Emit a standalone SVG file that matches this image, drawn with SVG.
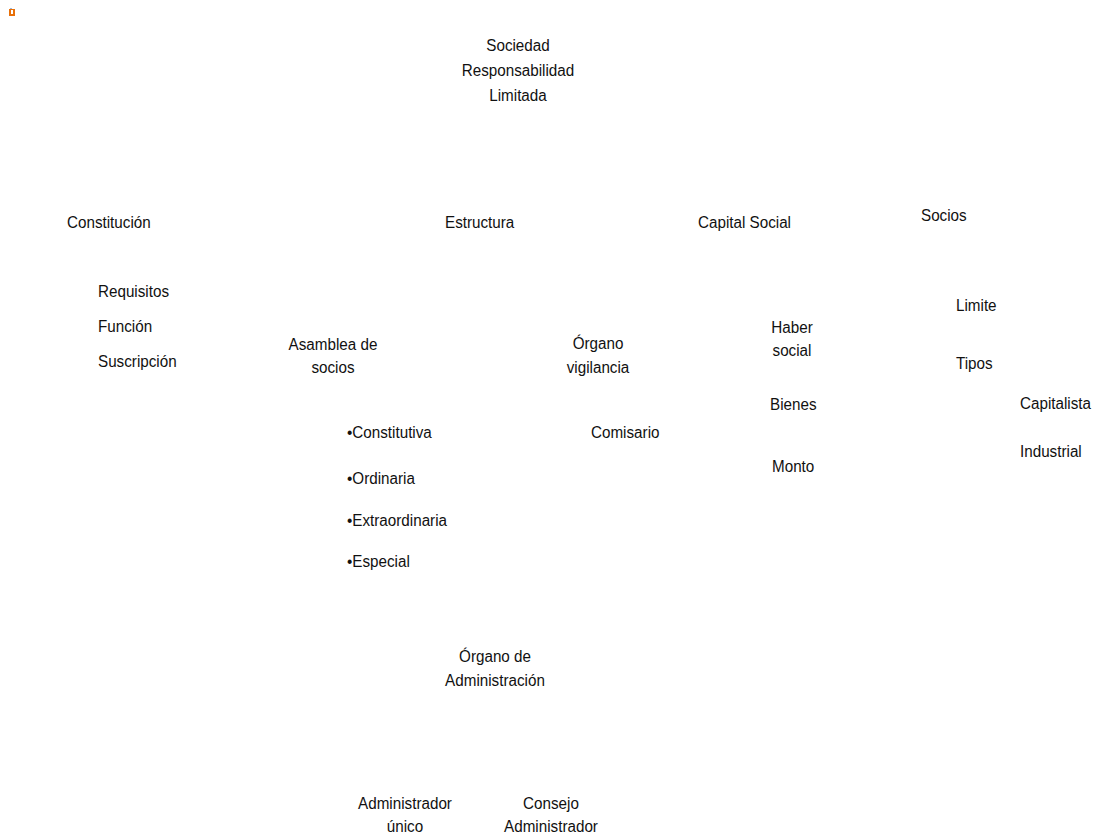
<svg xmlns="http://www.w3.org/2000/svg" width="1096" height="836" viewBox="0 0 1096 836">
<style>
text{font-family:"Liberation Sans",Arial,sans-serif;font-size:17.3px;fill:#111111}
.c{text-anchor:middle}
</style>
<rect width="1096" height="836" fill="#ffffff"/>
<g id="icon">
<rect x="9" y="9" width="6" height="7" fill="#e8700a"/>
<rect x="11" y="10" width="2" height="4" fill="#ffffff"/>
<rect x="10" y="8" width="2" height="1" fill="#9fb8d8"/>
</g>
<g id="connectors"></g>
<g id="n-root"><text class="c" transform="translate(518,51) scale(0.88,1)">Sociedad</text><text class="c" transform="translate(518,76) scale(0.88,1)">Responsabilidad</text><text class="c" transform="translate(518,101) scale(0.88,1)">Limitada</text></g>
<g id="n-constitucion"><text transform="translate(67,228) scale(0.88,1)">Constitución</text></g>
<g id="n-estructura"><text transform="translate(445,228) scale(0.88,1)">Estructura</text></g>
<g id="n-capital"><text transform="translate(698,228) scale(0.88,1)">Capital Social</text></g>
<g id="n-socios"><text transform="translate(921,221) scale(0.88,1)">Socios</text></g>
<g id="n-requisitos"><text transform="translate(98,297) scale(0.88,1)">Requisitos</text></g>
<g id="n-funcion"><text transform="translate(98,332) scale(0.88,1)">Función</text></g>
<g id="n-suscripcion"><text transform="translate(98,367) scale(0.88,1)">Suscripción</text></g>
<g id="n-asamblea"><text class="c" transform="translate(333,350) scale(0.88,1)">Asamblea de</text><text class="c" transform="translate(333,373) scale(0.88,1)">socios</text></g>
<g id="n-vigilancia"><text class="c" transform="translate(598,349) scale(0.88,1)">Órgano</text><text class="c" transform="translate(598,373) scale(0.88,1)">vigilancia</text></g>
<g id="n-comisario"><text transform="translate(591,438) scale(0.88,1)">Comisario</text></g>
<g id="n-tipos-asamblea">
<text transform="translate(347,438) scale(0.88,1)">•Constitutiva</text>
<text transform="translate(347,484) scale(0.88,1)">•Ordinaria</text>
<text transform="translate(347,526) scale(0.88,1)">•Extraordinaria</text>
<text transform="translate(347,567) scale(0.88,1)">•Especial</text>
</g>
<g id="n-haber"><text class="c" transform="translate(792,333) scale(0.88,1)">Haber</text><text class="c" transform="translate(792,356) scale(0.88,1)">social</text></g>
<g id="n-bienes"><text transform="translate(770,410) scale(0.88,1)">Bienes</text></g>
<g id="n-monto"><text transform="translate(772,472) scale(0.88,1)">Monto</text></g>
<g id="n-limite"><text transform="translate(956,311) scale(0.88,1)">Limite</text></g>
<g id="n-tipos"><text transform="translate(956,369) scale(0.88,1)">Tipos</text></g>
<g id="n-capitalista"><text transform="translate(1020,409) scale(0.88,1)">Capitalista</text></g>
<g id="n-industrial"><text transform="translate(1020,457) scale(0.88,1)">Industrial</text></g>
<g id="n-administracion"><text class="c" transform="translate(495,662) scale(0.88,1)">Órgano de</text><text class="c" transform="translate(495,686) scale(0.88,1)">Administración</text></g>
<g id="n-unico"><text class="c" transform="translate(405,809) scale(0.88,1)">Administrador</text><text class="c" transform="translate(405,832) scale(0.88,1)">único</text></g>
<g id="n-consejo"><text class="c" transform="translate(551,809) scale(0.88,1)">Consejo</text><text class="c" transform="translate(551,832) scale(0.88,1)">Administrador</text></g>
</svg>
